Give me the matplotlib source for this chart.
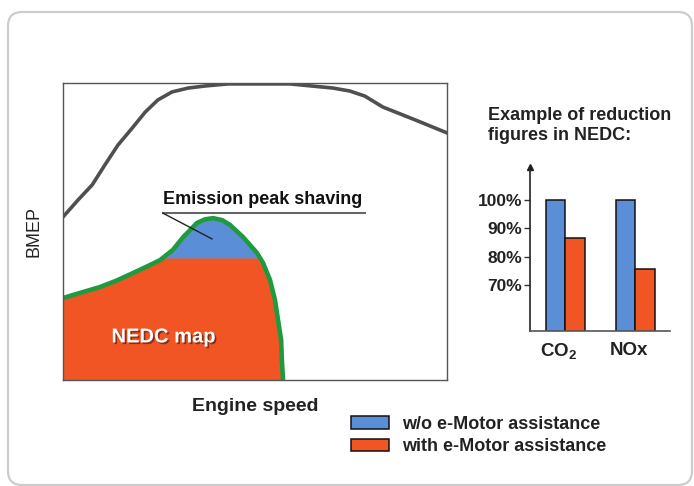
import numpy as np
import matplotlib
matplotlib.use("Agg")
import matplotlib.pyplot as plt
from matplotlib import patches
from matplotlib import patheffects as pe
from matplotlib.transforms import IdentityTransform

plt.rcParams['font.family'] = ['Liberation Sans', 'DejaVu Sans']
plt.rcParams['mathtext.fontset'] = 'custom'
plt.rcParams['mathtext.rm'] = 'Liberation Sans:bold'
plt.rcParams['mathtext.bf'] = 'Liberation Sans:bold'

## full load curve (engine speed %, BMEP %)
full_x = [0, 3.9, 7.6, 10.9, 14.3, 18.0, 21.4, 24.7, 28.4, 32.6, 37.0, 43.0, 50.0, 59.1,
          70.3, 74.7, 78.6, 83.3, 87.8, 93.0, 100]
full_y = [54.9, 60.6, 65.7, 72.4, 79.1, 84.8, 90.2, 94.3, 97.0, 98.3, 99.0, 99.7, 99.7, 99.7,
          98.3, 97.3, 95.6, 91.9, 89.6, 86.9, 83.2]

## NEDC envelope (green line)
nedc_x = [0, 4.4, 9.6, 14.0, 18.2, 22.0, 25.3, 28.6, 31.3, 34.9, 37.0, 39.1, 41.5, 43.5, 46.9,
          50.5, 52.1, 53.9, 55.2, 56.0, 56.8, 57.0, 57.3]
nedc_y = [27.6, 29.3, 31.3, 33.5, 36.0, 38.3, 40.4, 43.8, 48.1, 52.9, 54.1, 54.5, 53.8, 52.2, 48.1,
          42.8, 39.4, 33.7, 26.9, 20.2, 13.5, 6.7, 0]
shaved_level = 41.1

## bar chart
species = ['CO$_2$', 'NOx']
without_motor = [100, 100]
with_motor = [86.5, 75.5]
pct_ticks = [70, 80, 90, 100]
legend_labels = ['w/o e-Motor assistance', 'with e-Motor assistance']

c_orange = '#f15524'
c_blue = '#5a8fd8'
c_green = '#1f9b3f'
c_gray = '#4f4f4f'

fig = plt.figure(figsize=(6.94, 4.86), dpi=100)

# outer rounded frame (pixel coords)
frame = patches.FancyBboxPatch((8, 1), 684, 473, boxstyle="round,pad=0,rounding_size=14",
                               transform=IdentityTransform(), fill=False,
                               edgecolor='#cccccc', linewidth=1.6)
fig.patches.append(frame)

ax = fig.add_axes([0.0908, 0.2181, 0.5533, 0.6111])
ax.set_xlim(0, 100)
ax.set_ylim(0, 100)
ax.set_xticks([])
ax.set_yticks([])
for s in ax.spines.values():
	s.set_color('#555555')
	s.set_linewidth(1.0)

nx = np.array(nedc_x)
ny = np.array(nedc_y)
ax.fill_between(nx, 0, ny, color=c_orange, linewidth=0)
ax.fill_between(nx, shaved_level, ny, where=ny > shaved_level, interpolate=True,
                color=c_blue, linewidth=0)
ax.plot(nx, ny, color=c_green, linewidth=3.3, solid_capstyle='butt', solid_joinstyle='round')
ax.plot(full_x, full_y, color=c_gray, linewidth=2.6, solid_joinstyle='round')

ax.text(26.0, 60.8, 'Emission peak shaving', fontsize=13, fontweight='bold',
        ha='left', va='center', color='#111111')
ax.plot([26.0, 78.6], [56.2, 56.2], color='#666666', linewidth=1.5)
ax.plot([26.0, 38.8], [56.2, 47.5], color='#222222', linewidth=1.0)

ax.text(26.2, 14.5, 'NEDC map', fontsize=14.5, fontweight='bold', color='white',
        ha='center', va='center',
        path_effects=[pe.withSimplePatchShadow(offset=(1.2, -1.2), shadow_rgbFace='#5a2010', alpha=0.7)])

ax.set_xlabel('Engine speed', fontsize=14, fontweight='bold', labelpad=13, color='#222222')
ax.set_ylabel('BMEP', fontsize=13, labelpad=15, color='#222222')

# bar chart
bx = fig.add_axes([0.7637, 0.3189, 0.2017, 0.3374])
pos = np.arange(len(species))
w = 0.285
bx.bar(pos - w / 2, without_motor, w, color=c_blue, edgecolor='#111111', linewidth=1.1,
       label=legend_labels[0])
bx.bar(pos + w / 2, with_motor, w, color=c_orange, edgecolor='#111111', linewidth=1.1,
       label=legend_labels[1])
bx.set_xlim(-0.507, 1.493)
bx.set_ylim(53.8, 111.6)
bx.set_yticks(pct_ticks)
bx.set_yticklabels([f'{v}%' for v in pct_ticks], fontsize=12.5, fontweight='bold', color='#222222')
bx.set_xticks(pos - 0.1)
bx.set_xticklabels(species, fontsize=13.5, fontweight='bold', color='#222222')
bx.tick_params(axis='x', length=0, pad=8)
bx.tick_params(axis='y', length=4, width=1.0, pad=1.5, color='#333333')
bx.spines['top'].set_visible(False)
bx.spines['right'].set_visible(False)
bx.spines['left'].set_color('#222222')
bx.spines['bottom'].set_color('#555555')
bx.spines['left'].set_linewidth(1.2)
bx.spines['bottom'].set_linewidth(1.2)
bx.set_facecolor('none')
bx.plot(0, 1, marker='^', color='#222222', markersize=4, transform=bx.transAxes, clip_on=False)

fig.text(0.703, 0.780, 'Example of reduction\nfigures in NEDC:', fontsize=13, fontweight='bold',
         ha='left', va='top', linespacing=1.2, color='#222222')

handles, labels = bx.get_legend_handles_labels()
leg = fig.legend(handles, labels, loc='upper left', bbox_to_anchor=(0.506, 0.145),
                 frameon=False, prop={'weight': 'bold', 'size': 13},
                 handlelength=2.1, handleheight=0.7, handletextpad=0.72,
                 labelspacing=0.33, borderpad=0, borderaxespad=0)
for t in leg.get_texts():
	t.set_color('#222222')

fig.savefig('out.png', dpi=100)
